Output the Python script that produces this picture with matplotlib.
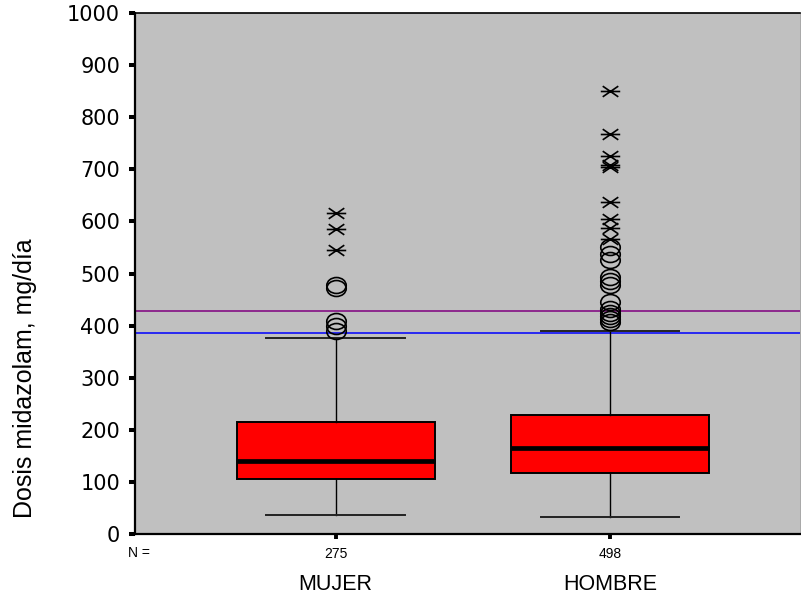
import numpy as np
import matplotlib
matplotlib.use("Agg")
import matplotlib.pyplot as plt
from matplotlib.path import Path
from matplotlib.transforms import blended_transform_factory

# groups and sample sizes
groups = ["MUJER", "HOMBRE"]
n_counts = [275, 498]

# box statistics (mg/dia)
whislo = [36, 33]
q1 = [106, 117]
medians = [141, 166]
q3 = [215, 228]
whishi = [376, 390]

# outliers (circles) and extreme values (asterisks)
out_mujer = [478, 472, 409, 400, 390]
out_hombre = [550, 537, 525, 493, 485, 478, 445, 432, 424, 418, 412, 406]
ext_mujer = [616, 585, 545]
ext_hombre = [850, 767, 725, 708, 704, 637, 605, 587, 566]

# reference lines
ref_purple = 428
ref_blue = 386

fig = plt.figure(figsize=(8.01, 5.97), dpi=100)
ax = fig.add_axes([135 / 801, 63 / 597, 665 / 801, 521 / 597])
ax.set_facecolor("#C0C0C0")

stats = []
for i in range(len(groups)):
    stats.append(dict(med=medians[i], q1=q1[i], q3=q3[i],
                      whislo=whislo[i], whishi=whishi[i], fliers=[]))

ax.bxp(stats, positions=[1, 2], widths=0.722, capwidths=0.505,
       showfliers=False, patch_artist=True,
       boxprops=dict(facecolor="#FF0000", edgecolor="black", linewidth=1.4),
       medianprops=dict(color="black", linewidth=3.4, solid_capstyle="butt"),
       whiskerprops=dict(color="black", linewidth=1.0),
       capprops=dict(color="#222222", linewidth=1.4))

ax.axhline(ref_purple, color="#800080", linewidth=1.1, zorder=1)
ax.axhline(ref_blue, color="#0000FF", linewidth=1.1, zorder=1)

# marker shapes
circ = Path.unit_circle()
ellipse = Path(circ.vertices * np.array([1.0, 0.82]), circ.codes)
star = Path([(-1, 0), (1, 0), (-0.8, -0.55), (0.8, 0.55), (-0.8, 0.55), (0.8, -0.55)],
            [Path.MOVETO, Path.LINETO] * 3)

for pos, outs, exts in [(1, out_mujer, ext_mujer), (2, out_hombre, ext_hombre)]:
    ax.plot([pos] * len(outs), outs, linestyle="none", marker=ellipse,
            markersize=14, markerfacecolor="none", markeredgecolor="black",
            markeredgewidth=1.2, zorder=4)
    ax.plot([pos] * len(exts), exts, linestyle="none", marker=star,
            markersize=14, markeredgecolor="black", markeredgewidth=1.2, zorder=4)

ax.set_xlim(0.268, 2.693)
ax.set_ylim(0, 1000)
ax.set_yticks(np.arange(0, 1001, 100))
ax.set_xticks([1, 2])
ax.set_xticklabels([str(n) for n in n_counts], fontsize=10, family="Liberation Sans")

for lab in ax.get_yticklabels():
    lab.set_family("DejaVu Sans")
    lab.set_fontsize(15)

ax.tick_params(axis="y", direction="out", length=4.3, width=2.9, pad=6.5, colors="black")
ax.tick_params(axis="x", direction="out", length=3.5, width=2.8, pad=6, colors="black")

for side in ["left", "bottom"]:
    ax.spines[side].set_linewidth(1.6)
ax.spines["top"].set_linewidth(1.2)
ax.spines["right"].set_linewidth(0.6)
ax.spines["right"].set_color("#999999")

tr = blended_transform_factory(ax.transData, ax.transAxes)
for i, g in enumerate(groups):
    ax.text(i + 1, -50 / 521, g, transform=tr, ha="center", va="center",
            fontsize=15.5, family="Liberation Sans")

ax.text(150 / 801, (597 - 553) / 597, "N =", transform=fig.transFigure,
        ha="right", va="center", fontsize=10, family="Liberation Sans")

fig.text(25 / 801, (597 - 378) / 597, "Dosis midazolam, mg/día", rotation=90,
         ha="center", va="center", fontsize=18, family="Liberation Sans")

fig.savefig("out.png", dpi=100)
